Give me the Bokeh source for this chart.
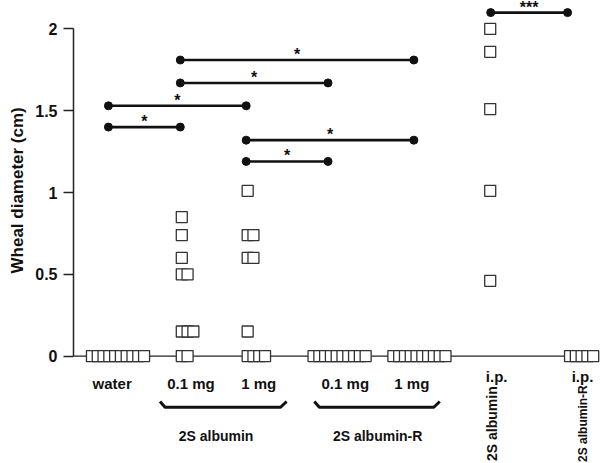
import math
from bokeh.plotting import figure
from bokeh.models import Range1d, LinearAxis, FixedTicker, ColumnDataSource, LabelSet, Title
from bokeh.core.properties import value
from bokeh.embed import file_html
from bokeh.resources import INLINE

# ---------------- data ----------------
group_names = ["water", "0.1 mg", "1 mg", "0.1 mg", "1 mg", "i.p.", "i.p."]
water = [0, 0, 0, 0, 0, 0, 0, 0, 0, 0]
alb_01 = [0, 0, 0.15, 0.15, 0.15, 0.50, 0.50, 0.60, 0.74, 0.85]
alb_1 = [0, 0, 0, 0, 0.15, 0.60, 0.60, 0.74, 0.74, 1.01]
albR_01 = [0, 0, 0, 0, 0, 0, 0, 0, 0, 0]
albR_1 = [0, 0, 0, 0, 0, 0, 0, 0, 0, 0]
ip_alb = [0.46, 1.01, 1.51, 1.86, 2.00]
ip_albR = [0, 0, 0, 0, 0]
group_values = [water, alb_01, alb_1, albR_01, albR_1, ip_alb, ip_albR]

# significance comparisons (group index pairs)
cmp_from = [0, 0, 1, 1, 2, 2, 5]
cmp_to = [1, 2, 3, 4, 4, 3, 6]
cmp_y = [1.40, 1.53, 1.67, 1.81, 1.32, 1.19, 2.10]
cmp_label = ["*", "*", "*", "*", "*", "*", "***"]

# dose groups bracketed under the axis
bracket_names = ["2S albumin", "2S albumin-R"]
bracket_first = [1, 3]
bracket_last = [2, 4]

# i.p. groups, vertical names
route_names = ["2S albumin", "2S albumin-R"]
route_groups = [5, 6]

y_ticks = [0, 0.5, 1, 1.5, 2]
y_tick_labels = ["0", "0.5", "1", "1.5", "2"]
y_title = "Wheal diameter (cm)"

# ---------------- layout (px from the y axis) ----------------
square_start = [13, 103, 169, 235, 315, 412, 492]
label_center = [38.7, 117.7, 185.5, 272.3, 339, 424, 510]
bar_anchor = [35, 107, 173, 255, 341, 418, 495]
bracket_label_center = [142.8, 304.7]
route_label_x = [419, 510]
SQ = 11.0
STEP = 5.8
FONT = "Liberation Sans"
INK = "#111111"

p = figure(width=600, height=463, output_backend="svg", toolbar_location=None,
           x_range=Range1d(0, 528), y_range=Range1d(-0.657, 2.174),
           x_axis_location=None, y_axis_location=None,
           min_border_left=72, min_border_right=0, min_border_top=0, min_border_bottom=0)
p.grid.visible = False
p.outline_line_color = None
p.background_fill_color = "white"
p.border_fill_color = "white"

ax = LinearAxis(bounds=(0, 2), ticker=FixedTicker(ticks=y_ticks),
                major_label_overrides={t: l for t, l in zip(y_ticks, y_tick_labels)})
ax.axis_line_width = 1.5
ax.axis_line_color = "#222222"
ax.major_tick_line_width = 1.5
ax.major_tick_line_color = "#222222"
ax.minor_tick_line_color = None
ax.major_tick_in = 0
ax.major_tick_out = 10
ax.major_label_standoff = 6
ax.major_label_text_font = FONT
ax.major_label_text_font_style = "bold"
ax.major_label_text_font_size = "16px"
ax.major_label_text_color = INK
p.add_layout(ax, "left")

# y title (left side title so it can be shifted up like the reference)
p.add_layout(Title(text=y_title, align="left", offset=190, text_font=FONT,
                   text_font_style="bold", text_font_size="17px", text_color=INK,
                   standoff=11), "left")

# baseline at zero
p.line([0, square_start[-1] + 5], [0, 0], line_color="#222222", line_width=1.3)

# squares
sx, sy = [], []
for gi, vals in enumerate(group_values):
    uniq = sorted(set(vals))
    for v in uniq:
        k = vals.count(v)
        for j in range(k):
            sx.append(square_start[gi] + SQ / 2 + j * STEP)
            sy.append(v)
p.scatter(sx, sy, marker="square", size=SQ, fill_color="white",
          line_color="#333333", line_width=1.3)

# significance bars
x0 = [bar_anchor[i] for i in cmp_from]
x1 = [bar_anchor[i] for i in cmp_to]
p.segment(x0, cmp_y, x1, cmp_y, line_color=INK, line_width=2.6)
p.scatter(x0 + x1, cmp_y + cmp_y, marker="circle", size=8, fill_color=INK, line_color=INK)
star_src = ColumnDataSource(dict(x=[(a + b) / 2 for a, b in zip(x0, x1)], y=cmp_y, t=cmp_label))
p.add_layout(LabelSet(x="x", y="y", text="t", source=star_src, text_align="center",
                      text_baseline="alphabetic", text_font=value(FONT),
                      text_font_style="bold", text_font_size="16px", text_color=INK))

# group labels under the axis
lab_y = [-0.125 if n == "i.p." else -0.168 for n in group_names]
p.text(label_center, lab_y, text=group_names, text_align="center", text_baseline="alphabetic",
       text_font=value(FONT), text_font_style="bold", text_font_size="15px", text_color=INK)

# brackets
bxs, bys = [], []
for a, b in zip(bracket_first, bracket_last):
    L = label_center[a] - 31
    R = label_center[b] + 28
    bxs.append([L, L + 5, R - 6, R])
    bys.append([-0.278, -0.313, -0.313, -0.278])
p.multi_line(bxs, bys, line_color=INK, line_width=3)
p.text(bracket_label_center, [-0.486] * len(bracket_names), text=bracket_names,
       text_align="center", text_baseline="alphabetic", text_font=value(FONT),
       text_font_style="bold", text_font_size="14px", text_color=INK)

# vertical route names
p.text(route_label_x[:1], [-0.413], text=route_names[:1], angle=math.pi / 2,
       text_align="center", text_baseline="middle", text_font=value(FONT),
       text_font_style="bold", text_font_size="14px", text_color=INK)
p.text(route_label_x[1:], [-0.413], text=route_names[1:], angle=math.pi / 2,
       text_align="center", text_baseline="middle", text_font=value(FONT),
       text_font_style="bold", text_font_size="12px", text_color=INK)

open("out.html", "w").write(file_html(p, INLINE))
